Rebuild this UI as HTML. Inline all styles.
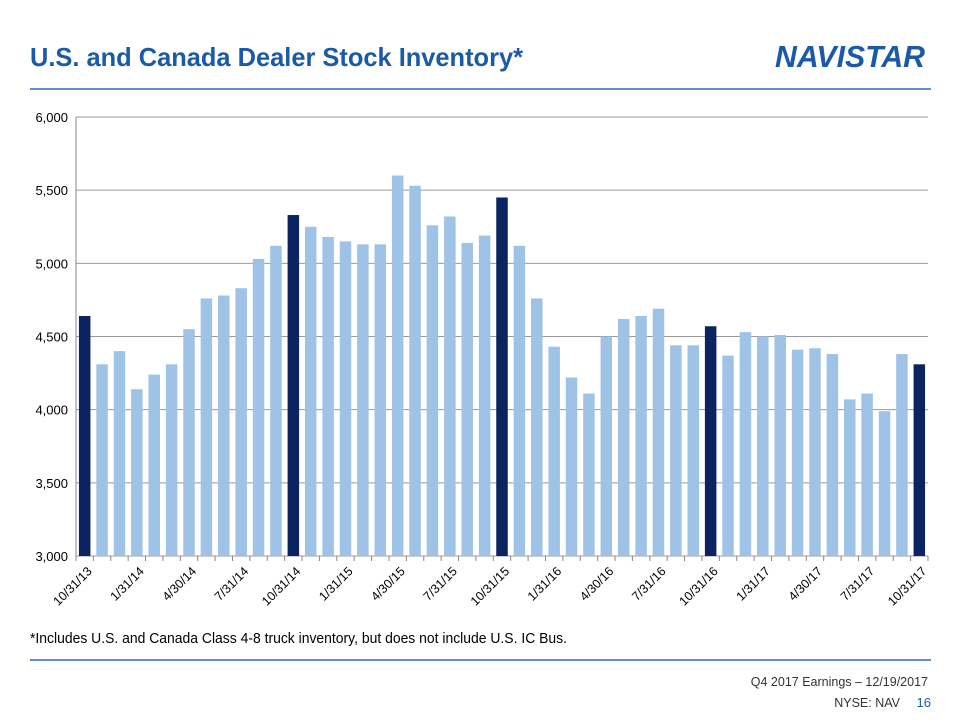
<!DOCTYPE html>
<html><head><meta charset="utf-8"><style>
body{margin:0;width:960px;height:720px;background:#fff;overflow:hidden;font-family:"Liberation Sans",sans-serif}
</style></head><body>
<svg id="s" width="960" height="720" xmlns="http://www.w3.org/2000/svg" font-family="Liberation Sans, sans-serif">
<text x="30" y="66" font-size="26" font-weight="bold" fill="#1a5aa8" textLength="493" lengthAdjust="spacingAndGlyphs">U.S. and Canada Dealer Stock Inventory*</text>
<text x="775" y="67" font-size="31" font-weight="bold" font-style="italic" fill="#1a5aa8" textLength="150" lengthAdjust="spacingAndGlyphs">NAVISTAR</text>
<line x1="30" y1="89" x2="931" y2="89" stroke="#5b8fd0" stroke-width="2"/>
<line x1="30" y1="660" x2="931" y2="660" stroke="#5b8fd0" stroke-width="2"/>
<text x="30" y="643" font-size="15" fill="#000" textLength="537" lengthAdjust="spacingAndGlyphs">*Includes U.S. and Canada Class 4-8 truck inventory, but does not include U.S. IC Bus.</text>
<text x="928" y="686" font-size="12.5" text-anchor="end" fill="#333">Q4 2017 Earnings – 12/19/2017</text>
<text x="900" y="707" font-size="12.5" text-anchor="end" fill="#333">NYSE: NAV</text>
<text x="931" y="707" font-size="13" text-anchor="end" fill="#1a5aa8">16</text>
<g id="c"></g>
</svg>
<script>
var v=[4640,4310,4400,4140,4240,4310,4550,4760,4780,4830,5030,5120,5330,5250,5180,5150,5130,5130,5600,5530,5260,5320,5140,5190,5450,5120,4760,4430,4220,4110,4500,4620,4640,4690,4440,4440,4570,4370,4530,4500,4510,4410,4420,4380,4070,4110,3990,4380,4310];
var dark=[0,12,24,36,48];
var L=76,R=928,T=117,B=556,n=v.length,w=(R-L)/n,h='';
function y(val){return B-(val-3000)/3000*(B-T);}
for(var k=3000;k<=6000;k+=500){var yy=y(k);
h+='<line x1="'+L+'" y1="'+yy+'" x2="'+R+'" y2="'+yy+'" stroke="#999" stroke-width="1"/>';
h+='<text x="'+(L-8)+'" y="'+(yy+5)+'" font-size="13" text-anchor="end">'+(k/1000|0)+','+String(k%1000).padStart(3,'0')+'</text>';}
h+='<line x1="'+L+'" y1="'+T+'" x2="'+L+'" y2="'+B+'" stroke="#888"/>';
var labs=['10/31/13','1/31/14','4/30/14','7/31/14','10/31/14','1/31/15','4/30/15','7/31/15','10/31/15','1/31/16','4/30/16','7/31/16','10/31/16','1/31/17','4/30/17','7/31/17','10/31/17'];
for(var i=0;i<n;i++){var x=L+i*w+w/2,bw=11.5;
h+='<rect x="'+(x-bw/2)+'" y="'+y(v[i])+'" width="'+bw+'" height="'+(B-y(v[i]))+'" fill="'+(dark.indexOf(i)>=0?'#0b2361':'#9fc3e6')+'"/>';
h+='<line x1="'+(L+i*w)+'" y1="'+B+'" x2="'+(L+i*w)+'" y2="'+(B+5)+'" stroke="#888"/>';
if(i%3==0){h+='<text transform="translate('+(x+8)+','+(B+16)+') rotate(-45)" font-size="12.5" text-anchor="end">'+labs[i/3]+'</text>';}}
h+='<line x1="'+R+'" y1="'+B+'" x2="'+R+'" y2="'+(B+5)+'" stroke="#888"/>';
document.getElementById('c').innerHTML=h;
</script>
</body></html>
